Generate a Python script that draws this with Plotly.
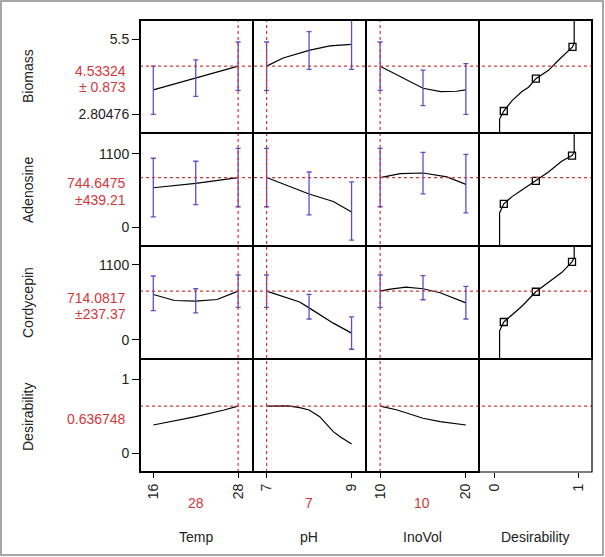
import plotly.graph_objects as go
from plotly.subplots import make_subplots

# ---------------- data ----------------
responses = ["Biomass", "Adenosine", "Cordycepin", "Desirability"]
factors = ["Temp", "pH", "InoVol", "Desirability"]
current_x = [28, 7, 10]
current_x_text = ["28", "7", "10"]
current_y = [4.53324, 744.6475, 714.0817, 0.636748]
current_y_text = ["4.53324", "744.6475", "714.0817", "0.636748"]
current_ci_text = ["± 0.873", "±439.21", "±237.37", ""]

x_ticks = [[16, 28], [7, 9], [10, 20], [0, 1]]
y_ticks = [[2.80476, 5.5], [0, 1100], [0, 1100], [0, 1]]
y_tick_text = [["2.80476", "5.5"], ["0", "1100"], ["0", "1100"], ["0", "1"]]

# profile traces (x, y) per response row and factor column
temp_x_bio = [16, 22, 28]
temp_y_bio = [3.679, 4.116, 4.53324]
ph_x_bio = [7, 7.39, 8.02, 8.49, 9]
ph_y_bio = [4.53324, 4.83, 5.11, 5.267, 5.318]
ino_x_bio = [10, 12.35, 15, 17.06, 18.9, 20]
ino_y_bio = [4.53324, 4.163, 3.737, 3.617, 3.628, 3.679]

temp_x_ade = [16, 22, 28]
temp_y_ade = [591, 656, 744.6475]
ph_x_ade = [7, 7.78, 8, 8.57, 9]
ph_y_ade = [744.6475, 557, 498, 384, 228]
ino_x_ade = [10, 12.35, 15, 17.8, 20]
ino_y_ade = [744.6475, 804, 813, 754, 642]

temp_x_cor = [16, 19, 22, 25, 28]
temp_y_cor = [666, 577, 567, 592, 714.0817]
ph_x_cor = [7, 7.78, 8, 8.57, 9]
ph_y_cor = [714.0817, 555, 469, 245, 99]
ino_x_cor = [10, 11, 13, 15, 17, 20]
ino_y_cor = [714.0817, 740, 774, 750, 691, 543]

temp_x_des = [16, 22, 26, 28]
temp_y_des = [0.382, 0.495, 0.585, 0.636748]
ph_x_des = [7, 7.5, 7.78, 8, 8.25, 8.57, 8.73, 9]
ph_y_des = [0.636748, 0.64, 0.616, 0.585, 0.495, 0.292, 0.224, 0.126]
ino_x_des = [10, 12, 15, 17, 20]
ino_y_des = [0.636748, 0.585, 0.473, 0.427, 0.382]

# error bars: x, centre, upper, lower
eb_temp_x = [16, 22, 28]
eb_ph_x = [7, 8, 9]
eb_ino_x = [10, 15, 20]
eb_bio_temp = ([3.679, 4.116, 4.53324], [4.538, 4.757, 5.406], [2.79, 3.446, 3.660])
eb_bio_ph = ([4.53324, 5.11, 5.318], [5.406, 5.777, 6.22], [3.660, 4.418, 4.418])
eb_bio_ino = ([4.53324, 3.737, 3.679], [5.406, 4.393, 4.626], [3.660, 3.107, 2.79])
eb_ade_temp = ([591, 656, 744.6475], [1035, 990, 1183.9], [154, 336, 305.4])
eb_ade_ph = ([744.6475, 498, 228], [1183.9, 828, 680], [305.4, 183, -197])
eb_ade_ino = ([744.6475, 813, 642], [1183.9, 1124, 1094], [305.4, 498, 213])
eb_cor_temp = ([666, 567, 714.0817], [937, 750, 951.45], [429, 395, 476.7])
eb_cor_ph = ([714.0817, 469, 99], [951.45, 666, 336], [476.7, 306, -138])
eb_cor_ino = ([714.0817, 750, 543], [951.45, 943, 785], [476.7, 588, 306])

# desirability functions (desirability, response)
des_d_bio = [0.064, 0.064, 0.114, 0.212, 0.329, 0.408, 0.494, 0.644, 0.762, 0.929, 0.949, 0.949]
des_r_bio = [2.0, 2.623, 2.914, 3.289, 3.617, 3.774, 4.080, 4.382, 4.746, 5.230, 5.354, 6.4]
des_d_ade = [0.064, 0.064, 0.114, 0.212, 0.329, 0.494, 0.644, 0.800, 0.923, 0.949, 0.949]
des_r_ade = [-300, 213, 350, 458, 557, 695, 828, 991, 1075, 1124, 1450]
des_d_cor = [0.064, 0.064, 0.114, 0.212, 0.329, 0.494, 0.644, 0.800, 0.923, 0.949, 0.949]
des_r_cor = [-300, 133, 262, 370, 493, 706, 839, 987, 1144, 1209, 1450]
ctrl_d_bio = [0.114, 0.494, 0.929]
ctrl_r_bio = [2.914, 4.080, 5.230]
ctrl_d_ade = [0.114, 0.494, 0.923]
ctrl_r_ade = [350, 695, 1075]
ctrl_d_cor = [0.114, 0.494, 0.923]
ctrl_r_cor = [262, 706, 1144]

x_ranges = [[14.12, 30.1], [6.68, 9.34], [8.35, 21.53], [-0.18, 1.16]]
y_ranges = [[2.12, 6.2], [-285, 1415], [-281, 1377], [-0.253, 1.274]]

# ---------------- figure ----------------
W, H = 605, 557
L, R, T, B = 140, 13, 20, 85
PW, PH = W - L - R, H - T - B

FONT = "Liberation Sans, Arial, sans-serif"
RED = "#d4373a"
BLUE = "#5b4fcf"

fig = make_subplots(rows=4, cols=4, horizontal_spacing=0, vertical_spacing=0)

profiles = [
    [(temp_x_bio, temp_y_bio), (ph_x_bio, ph_y_bio), (ino_x_bio, ino_y_bio)],
    [(temp_x_ade, temp_y_ade), (ph_x_ade, ph_y_ade), (ino_x_ade, ino_y_ade)],
    [(temp_x_cor, temp_y_cor), (ph_x_cor, ph_y_cor), (ino_x_cor, ino_y_cor)],
    [(temp_x_des, temp_y_des), (ph_x_des, ph_y_des), (ino_x_des, ino_y_des)],
]
errbars = [
    [eb_bio_temp, eb_bio_ph, eb_bio_ino],
    [eb_ade_temp, eb_ade_ph, eb_ade_ino],
    [eb_cor_temp, eb_cor_ph, eb_cor_ino],
]
eb_x = [eb_temp_x, eb_ph_x, eb_ino_x]
des_curves = [(des_d_bio, des_r_bio, ctrl_d_bio, ctrl_r_bio),
              (des_d_ade, des_r_ade, ctrl_d_ade, ctrl_r_ade),
              (des_d_cor, des_r_cor, ctrl_d_cor, ctrl_r_cor)]

for r in range(4):
    for c in range(3):
        px, py = profiles[r][c]
        fig.add_trace(go.Scatter(x=px, y=py, mode="lines",
                                 line=dict(color="black", width=1.2),
                                 showlegend=False, hoverinfo="skip"),
                      row=r + 1, col=c + 1)
        if r < 3:
            cen, up, lo = errbars[r][c]
            fig.add_trace(go.Scatter(
                x=eb_x[c], y=cen, mode="markers",
                marker=dict(size=1, color="rgba(0,0,0,0)"),
                error_y=dict(type="data", symmetric=False,
                             array=[u - m for u, m in zip(up, cen)],
                             arrayminus=[m - l for m, l in zip(cen, lo)],
                             color=BLUE, thickness=1.3, width=2.5),
                showlegend=False, hoverinfo="skip"),
                row=r + 1, col=c + 1)
    if r < 3:
        dd, rr, cd, cr = des_curves[r]
        fig.add_trace(go.Scatter(x=dd, y=rr, mode="lines",
                                 line=dict(color="black", width=1.2),
                                 showlegend=False, hoverinfo="skip"),
                      row=r + 1, col=4)
        fig.add_trace(go.Scatter(x=cd, y=cr, mode="markers",
                                 marker=dict(symbol="square-open", size=7,
                                             color="black", line=dict(width=1.3)),
                                 showlegend=False, hoverinfo="skip"),
                      row=r + 1, col=4)

# empty bottom-right cell still needs its axes drawn
fig.add_trace(go.Scatter(x=[None], y=[None], mode="markers", showlegend=False,
                         hoverinfo="skip"), row=4, col=4)

for r in range(4):
    for c in range(4):
        fig.update_xaxes(row=r + 1, col=c + 1, range=x_ranges[c],
                         showgrid=False, zeroline=False, showline=False,
                         tickvals=x_ticks[c] if r == 3 else [],
                         ticks="outside" if r == 3 else "",
                         ticklen=5, tickwidth=1.2, tickcolor="black",
                         tickangle=-90, showticklabels=(r == 3),
                         tickfont=dict(family=FONT, size=14, color="#222"))
        fig.update_yaxes(row=r + 1, col=c + 1, range=y_ranges[r],
                         showgrid=False, zeroline=False, showline=False,
                         tickvals=y_ticks[r] if c == 0 else [],
                         ticktext=y_tick_text[r] if c == 0 else None,
                         ticks="outside" if c == 0 else "",
                         ticklen=7, tickwidth=1.2, tickcolor="black",
                         showticklabels=(c == 0),
                         tickfont=dict(family=FONT, size=14, color="#222"))

shapes = []
# horizontal red dashed reference lines
for r in range(4):
    yref = "y" if r == 0 else f"y{r * 4 + 1}"
    shapes.append(dict(type="line", xref="paper", yref=yref, x0=0, x1=1,
                       y0=current_y[r], y1=current_y[r],
                       line=dict(color=RED, width=1.2, dash="3px,3px")))
# vertical red dashed lines
for c in range(3):
    xref = "x" if c == 0 else f"x{c + 1}"
    shapes.append(dict(type="line", xref=xref, yref="paper", x0=current_x[c], x1=current_x[c],
                       y0=0, y1=1, line=dict(color=RED, width=1.2, dash="3px,3px")))

# panel frames: thin for the empty bottom-right cell, thick elsewhere
shapes.append(dict(type="rect", xref="paper", yref="paper", x0=0.75, x1=1, y0=0, y1=0.25,
                   line=dict(color="black", width=1.2)))
for r in range(4):
    for c in range(4):
        if r == 3 and c == 3:
            continue
        shapes.append(dict(type="rect", xref="paper", yref="paper",
                           x0=c / 4, x1=(c + 1) / 4, y0=1 - (r + 1) / 4, y1=1 - r / 4,
                           line=dict(color="black", width=2)))


def px2x(px):
    return (px - L) / PW


def px2y(py):
    return (H - B - py) / PH


# outer grey frame
shapes.append(dict(type="rect", xref="paper", yref="paper",
                   x0=px2x(1), x1=px2x(603), y0=px2y(555), y1=px2y(1),
                   line=dict(color="#8a8a8a", width=1.5)))

annotations = []
row_centres = [76, 190, 303, 417]
for r in range(4):
    annotations.append(dict(text=responses[r], xref="paper", yref="paper",
                            x=px2x(28), y=px2y(row_centres[r]), textangle=-90,
                            showarrow=False, xanchor="center", yanchor="middle",
                            font=dict(family=FONT, size=14, color="#222")))
val_y = [71, 183, 298, 419]
ci_y = [87, 200, 314, None]
for r in range(4):
    annotations.append(dict(text=current_y_text[r], xref="paper", yref="paper",
                            x=px2x(128), y=px2y(val_y[r]), showarrow=False,
                            xanchor="right", yanchor="middle",
                            font=dict(family=FONT, size=14, color=RED)))
    if ci_y[r] is not None:
        annotations.append(dict(text=current_ci_text[r], xref="paper", yref="paper",
                                x=px2x(128), y=px2y(ci_y[r]), showarrow=False,
                                xanchor="right", yanchor="middle",
                                font=dict(family=FONT, size=14, color=RED)))
col_centres = [196, 309, 422, 535]
for c in range(4):
    annotations.append(dict(text=factors[c], xref="paper", yref="paper",
                            x=px2x(col_centres[c]), y=px2y(537), showarrow=False,
                            xanchor="center", yanchor="middle",
                            font=dict(family=FONT, size=14, color="#222")))
for c in range(3):
    annotations.append(dict(text=current_x_text[c], xref="paper", yref="paper",
                            x=px2x(col_centres[c]), y=px2y(503), showarrow=False,
                            xanchor="center", yanchor="middle",
                            font=dict(family=FONT, size=14, color=RED)))

fig.update_layout(width=W, height=H,
                  margin=dict(l=L, r=R, t=T, b=B),
                  paper_bgcolor="white", plot_bgcolor="white",
                  shapes=shapes, annotations=annotations,
                  font=dict(family=FONT, size=13, color="#222"),
                  showlegend=False)

fig.write_html("out.html", config={"displayModeBar": False},
               post_script="document.body.style.margin='0px';")
